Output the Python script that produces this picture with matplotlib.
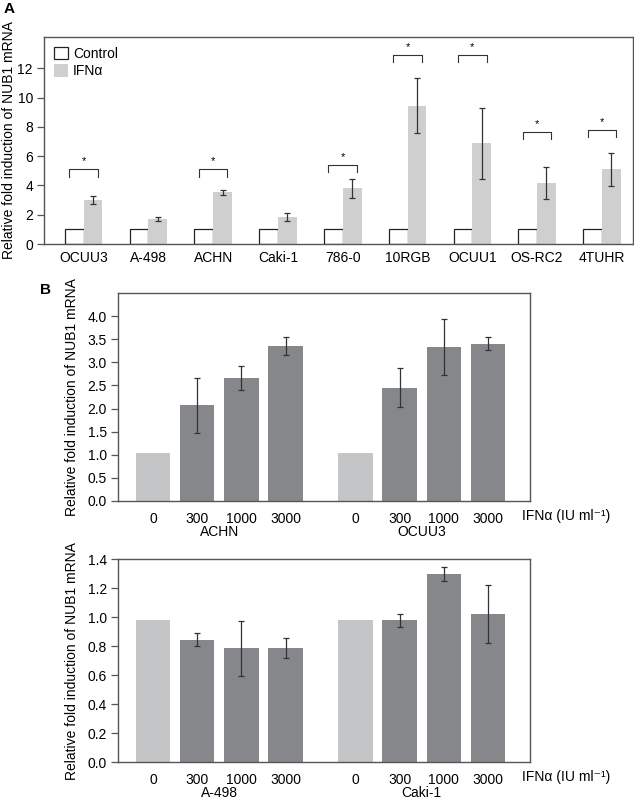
import numpy as np
import matplotlib.pyplot as plt

plt.rcParams['font.family'] = ['Liberation Sans', 'DejaVu Sans']

# ---- panel A data
cells_a = ['OCUU3', 'A-498', 'ACHN', 'Caki-1', '786-0', '10RGB', 'OCUU1', 'OS-RC2', '4TUHR']
ctrl_a = [1.0, 1.0, 1.0, 1.0, 1.0, 1.0, 1.0, 1.0, 1.0]
ifn_a = [3.0, 1.7, 3.52, 1.84, 3.8, 9.45, 6.88, 4.16, 5.09]
ifn_err_a = [0.25, 0.15, 0.17, 0.3, 0.67, 1.88, 2.42, 1.07, 1.12]
sig_idx = [0, 2, 4, 5, 6, 7, 8]
sig_h = [5.1, 5.1, 5.4, 12.9, 12.9, 7.66, 7.77]

# ---- panel B data
doses = ['0', '300', '1000', '3000']
achn = [1.03, 2.07, 2.66, 3.35]
achn_err = [0, 0.59, 0.25, 0.20]
ocuu3 = [1.03, 2.45, 3.33, 3.40]
ocuu3_err = [0, 0.42, 0.60, 0.14]
a498 = [0.98, 0.845, 0.785, 0.79]
a498_err = [0, 0.046, 0.19, 0.07]
caki1 = [0.98, 0.978, 1.30, 1.025]
caki1_err = [0, 0.047, 0.048, 0.2]

ylab = 'Relative fold induction of NUB1 mRNA'
fs = 10
spine_c = '#555555'
err_c = '#333333'
light = '#cfcfcf'
b_light = '#c4c5c7'
b_dark = '#86878b'

fig = plt.figure(figsize=(6.34, 8.01), dpi=100)


def style_axes(ax):
    for s in ax.spines.values():
        s.set_color(spine_c)
        s.set_linewidth(1.0)
    ax.tick_params(axis='y', direction='out', length=5, width=0.9, color=spine_c,
                   pad=3, labelsize=fs)
    ax.tick_params(axis='x', length=0, labelsize=fs)


# ================= panel A
axA = fig.add_axes([44 / 634, 1 - 244 / 801, 589 / 634, 207 / 801])
x = np.arange(len(cells_a))
w = 0.29
axA.bar(x - w / 2, ctrl_a, w, color='white', edgecolor='#222222', linewidth=0.9, label='Control')
axA.bar(x + w / 2, ifn_a, w, color=light, edgecolor='none', label='IFN\u03b1')
axA.errorbar(x + w / 2, ifn_a, yerr=ifn_err_a, fmt='none', ecolor=err_c,
             elinewidth=0.9, capsize=2.5, capthick=0.9)

for i, h in zip(sig_idx, sig_h):
    xl, xr = x[i] - 0.22, x[i] + 0.22
    axA.plot([xl, xl, xr, xr], [h - 0.5, h, h, h - 0.5], color=err_c, lw=0.8)
    axA.text(x[i], h + 0.2, '*', ha='center', va='bottom', fontsize=8)

axA.set_xlim(-0.61, 8.48)
axA.set_ylim(0, 14.13)
axA.set_yticks([0, 2, 4, 6, 8, 10, 12])
axA.set_xticks(x)
axA.set_xticklabels(cells_a)
style_axes(axA)
axA.tick_params(axis='x', pad=5)
axA.set_ylabel(ylab, fontsize=fs)
axA.yaxis.set_label_coords(-0.0475, 0.5)
axA.legend(loc='upper left', bbox_to_anchor=(0.0, 1.0), frameon=False, fontsize=fs,
           handlelength=1.0, handleheight=1.0, handletextpad=0.4, labelspacing=0.25,
           borderaxespad=0.4, borderpad=0.3)
fig.text(4 / 634, 1 - 9 / 801, 'A', fontsize=11, fontweight='bold', va='center')

# ================= panel B
pos1 = np.arange(4)
pos2 = np.arange(4) + 4.58
bw = 0.78
cols = [b_light, b_dark, b_dark, b_dark]


def panel_b(ax, v1, e1, v2, e2, name1, name2, ylim, yticks):
    ax.bar(pos1, v1, bw, color=cols)
    ax.bar(pos2, v2, bw, color=cols)
    ax.errorbar(pos1[1:], v1[1:], yerr=e1[1:], fmt='none', ecolor=err_c,
                elinewidth=0.9, capsize=2.5, capthick=0.9)
    ax.errorbar(pos2[1:], v2[1:], yerr=e2[1:], fmt='none', ecolor=err_c,
                elinewidth=0.9, capsize=2.5, capthick=0.9)
    ax.set_xlim(-0.79, 8.53)
    ax.set_ylim(*ylim)
    ax.set_yticks(yticks)
    ax.set_yticklabels(['%.1f' % t for t in yticks])
    ax.set_xticks(list(pos1) + list(pos2))
    ax.set_xticklabels(doses + doses)
    style_axes(ax)
    ax.tick_params(axis='x', pad=8)
    ax.set_ylabel(ylab, fontsize=fs)
    ax.yaxis.set_label_coords(-0.095, 0.5)
    tr = ax.get_xaxis_transform()
    ax.text(pos1.mean(), -0.15, name1, transform=tr, ha='center', va='center', fontsize=fs)
    ax.text(pos2.mean(), -0.15, name2, transform=tr, ha='center', va='center', fontsize=fs)
    ax.text(0.98, -0.073, 'IFN\u03b1 (IU ml\u207b\u00b9)', transform=ax.transAxes,
            ha='left', va='center', fontsize=fs)


axB1 = fig.add_axes([118 / 634, 1 - 501 / 801, 412 / 634, 208 / 801])
panel_b(axB1, achn, achn_err, ocuu3, ocuu3_err, 'ACHN', 'OCUU3',
        (0, 4.5), [0.0, 0.5, 1.0, 1.5, 2.0, 2.5, 3.0, 3.5, 4.0])

axB2 = fig.add_axes([118 / 634, 1 - 762.3 / 801, 412 / 634, 203 / 801])
panel_b(axB2, a498, a498_err, caki1, caki1_err, 'A-498', 'Caki-1',
        (0, 1.4), [0.0, 0.2, 0.4, 0.6, 0.8, 1.0, 1.2, 1.4])

fig.text(40 / 634, 1 - 290 / 801, 'B', fontsize=11, fontweight='bold', va='center')

fig.savefig('out.png', dpi=100)
